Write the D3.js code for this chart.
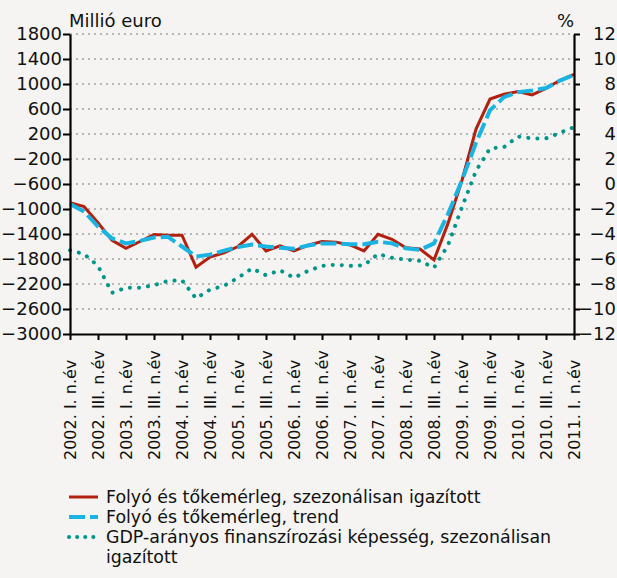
<!DOCTYPE html>
<html>
<head>
<meta charset="utf-8">
<script src="https://cdn.jsdelivr.net/npm/d3@7"></script>
<style>
  html, body { margin: 0; padding: 0; background: #f5f4f2; }
  svg { display: block; }
</style>
</head>
<body>
<svg id="chart"></svg>
<script>
// quarters 2002 Q1 .. 2011 Q1
const xLabels = [
  "2002. I. n.év", "2002. III. n.év", "2003. I. n.év", "2003. III. n.év",
  "2004. I. n.év", "2004. III. n.év", "2005. I. n.év", "2005. III. n.év",
  "2006. I. n.év", "2006. III. n.év", "2007. I. n.év", "2007. II. n.év",
  "2008. I. n.év", "2008. III. n.év", "2009. I. n.év", "2009. III. n.év",
  "2010. I. n.év", "2010. III. n.év", "2011. I. n.év"
];

// Folyó és tőkemérleg, szezonálisan igazított (millió euro)
const balanceSa = [
  -900, -960, -1220, -1500, -1630, -1520, -1410, -1420, -1420, -1930,
  -1770, -1700, -1600, -1405, -1670, -1590, -1670, -1580, -1520, -1530,
  -1575, -1670, -1405, -1485, -1620, -1640, -1815, -1230, -540, 280,
  760, 835, 880, 825, 930, 1060, 1155
];

// Folyó és tőkemérleg, trend (millió euro)
const balanceTrend = [
  -920, -1040, -1280, -1470, -1550, -1510, -1455, -1445, -1600, -1760,
  -1730, -1665, -1610, -1570, -1600, -1620, -1635, -1585, -1550, -1550,
  -1565, -1565, -1525, -1550, -1630, -1655, -1550, -1080, -540, 60,
  580, 790, 870, 895, 935, 1055, 1145
];

// GDP-arányos finanszírozási képesség (%)
const gdpRatio = [
  -5.3, -5.6, -6.55, -8.7, -8.3, -8.3, -8.1, -7.75, -7.7, -9.15,
  -8.45, -8.15, -7.5, -6.75, -7.3, -6.9, -7.5, -6.95, -6.55, -6.45,
  -6.55, -6.5, -5.6, -5.9, -6.05, -6.15, -6.7, -4.9, -1.85, 1.05,
  2.85, 2.95, 3.8, 3.65, 3.65, 4.1, 4.55
];

const leftTicks  = [1800, 1400, 1000, 600, 200, -200, -600, -1000, -1400, -1800, -2200, -2600, -3000];
const rightTicks = [12, 10, 8, 6, 4, 2, 0, -2, -4, -6, -8, -10, -12];

const legendLabels = [
  "Folyó és tőkemérleg, szezonálisan igazított",
  "Folyó és tőkemérleg, trend",
  "GDP-arányos finanszírozási képesség, szezonálisan",
  "igazított"
];

const W = 617, H = 578;
const plotL = 70, plotR = 574, plotT = 34, plotB = 334;
const font = "'DejaVu Sans', sans-serif";

const svg = d3.select("#chart").attr("width", W).attr("height", H)
  .style("background", "#f5f4f2");

const x  = d3.scaleLinear().domain([0, balanceSa.length - 1]).range([plotL, plotR]);
const yL = d3.scaleLinear().domain([-3000, 1800]).range([plotB, plotT]);
const yR = d3.scaleLinear().domain([-12, 12]).range([plotB, plotT]);

// grid
svg.append("g")
  .selectAll("line")
  .data(leftTicks.filter(d => d > -3000))
  .join("line")
  .attr("x1", plotL).attr("x2", plotR)
  .attr("y1", d => yL(d)).attr("y2", d => yL(d))
  .attr("stroke", "#a3a3a3")
  .attr("stroke-width", 1.3)
  .attr("stroke-dasharray", "2,4");

// series
const lineL = d3.line().x((d, i) => x(i)).y(d => yL(d));
const lineR = d3.line().x((d, i) => x(i)).y(d => yR(d));

svg.append("path").datum(gdpRatio)
  .attr("d", lineR)
  .attr("fill", "none")
  .attr("stroke", "#00968a")
  .attr("stroke-width", 4)
  .attr("stroke-linecap", "round")
  .attr("stroke-dasharray", "0.1,9");

svg.append("path").datum(balanceSa)
  .attr("d", lineL)
  .attr("fill", "none")
  .attr("stroke", "#b3200e")
  .attr("stroke-width", 3)
  .attr("stroke-linejoin", "miter");

svg.append("path").datum(balanceTrend)
  .attr("d", lineL)
  .attr("fill", "none")
  .attr("stroke", "#19b4e3")
  .attr("stroke-width", 4)
  .attr("stroke-dasharray", "16,5");

// axes
function styleAxis(g) {
  g.selectAll(".domain").attr("stroke", "#000").attr("stroke-width", 2.2);
  g.selectAll(".tick line").attr("stroke", "#000").attr("stroke-width", 2);
  g.selectAll("text").attr("fill", "#111").style("font-family", font).style("font-size", "18px");
}

svg.append("g")
  .attr("transform", `translate(${plotL},0)`)
  .call(d3.axisLeft(yL).tickValues(leftTicks).tickSize(7).tickSizeOuter(0).tickPadding(1)
    .tickFormat(d3.format("d")))
  .call(styleAxis);

const rAxis = svg.append("g")
  .attr("transform", `translate(${plotR},0)`)
  .call(d3.axisRight(yR).tickValues(rightTicks).tickSize(6).tickSizeOuter(0)
    .tickFormat(d3.format("d")))
  .call(styleAxis);
rAxis.selectAll("text").attr("x", 42).attr("text-anchor", "end");

const tickIdx = xLabels.map((d, i) => i * 2);
svg.append("g")
  .attr("transform", `translate(0,${plotB})`)
  .call(d3.axisBottom(x).tickValues(tickIdx).tickSize(6).tickSizeOuter(0).tickFormat(""))
  .call(styleAxis);

svg.append("g")
  .selectAll("text")
  .data(xLabels)
  .join("text")
  .attr("transform", (d, i) => `translate(${x(tickIdx[i])},460) rotate(-90)`)
  .attr("dy", "0.35em")
  .attr("text-anchor", "start")
  .style("font-family", font)
  .style("font-size", "16px")
  .attr("fill", "#111")
  .text(d => d);

// axis titles
svg.append("text")
  .attr("x", 69).attr("y", 27)
  .style("font-family", font).style("font-size", "18px")
  .attr("fill", "#111")
  .text("Millió euro");

svg.append("text")
  .attr("x", 574).attr("y", 27)
  .attr("text-anchor", "end")
  .style("font-family", font).style("font-size", "18px")
  .attr("fill", "#111")
  .text("%");

// legend
const legend = svg.append("g");
const legendY = [497, 517, 537];
const legendStyles = [
  {stroke: "#b3200e", width: 3, dash: null, cap: "butt"},
  {stroke: "#19b4e3", width: 4, dash: "16,5", cap: "butt"},
  {stroke: "#00968a", width: 4, dash: "0.1,8", cap: "round"}
];
legendStyles.forEach((s, i) => {
  legend.append("line")
    .attr("x1", 69).attr("x2", 98)
    .attr("y1", legendY[i]).attr("y2", legendY[i])
    .attr("stroke", s.stroke)
    .attr("stroke-width", s.width)
    .attr("stroke-linecap", s.cap)
    .attr("stroke-dasharray", s.dash);
});
legend.selectAll("text")
  .data(legendLabels)
  .join("text")
  .attr("x", 106)
  .attr("y", (d, i) => 503 + i * 20)
  .style("font-family", font)
  .style("font-size", "17.4px")
  .attr("fill", "#111")
  .text(d => d);
</script>
</body>
</html>
